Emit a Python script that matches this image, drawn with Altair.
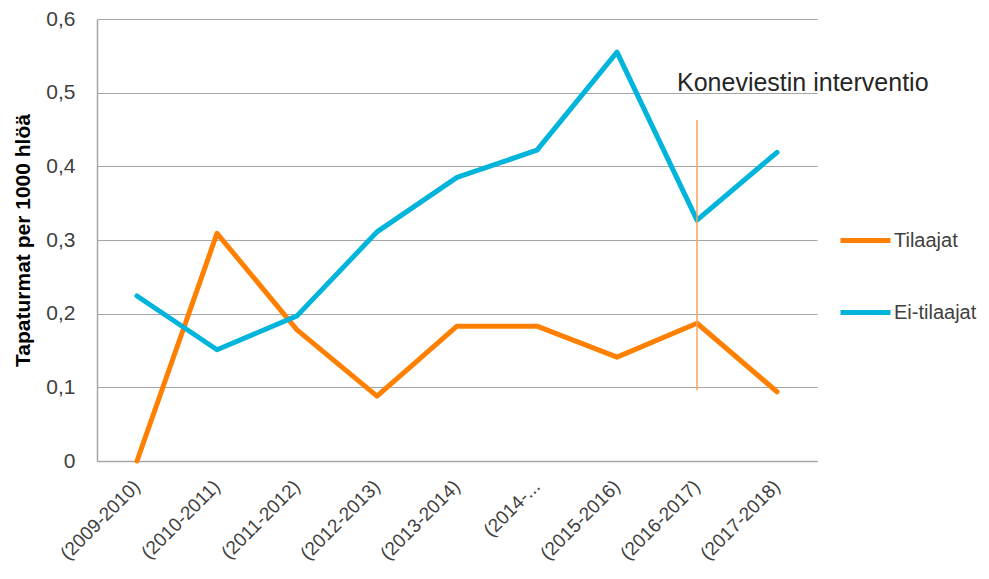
import altair as alt
import pandas as pd

categories = ["(2009-2010)", "(2010-2011)", "(2011-2012)", "(2012-2013)", "(2013-2014)",
              "(2014-...", "(2015-2016)", "(2016-2017)", "(2017-2018)"]
tilaajat = [0.0, 0.309, 0.178, 0.088, 0.183, 0.183, 0.141, 0.187, 0.094]
ei_tilaajat = [0.224, 0.151, 0.197, 0.311, 0.385, 0.422, 0.555, 0.327, 0.419]
series_names = ["Tilaajat", "Ei-tilaajat"]
series_colors = ["#FF8000", "#00B4DC"]

intervention_category = "(2016-2017)"
intervention_range = [0.096, 0.463]
annotation_text = "Koneviestin interventio"
annotation_y = 0.513

rows = []
for c, v in zip(categories, tilaajat):
    rows.append({"kausi": c, "arvo": v, "sarja": series_names[0]})
for c, v in zip(categories, ei_tilaajat):
    rows.append({"kausi": c, "arvo": v, "sarja": series_names[1]})
df = pd.DataFrame(rows)

FONT = "Liberation Sans"
TXT = "#404040"

x_enc = alt.X("kausi:N", sort=categories, title=None,
              scale=alt.Scale(domain=categories, paddingInner=0, paddingOuter=0),
              axis=alt.Axis(labelAngle=-45, labelAlign="right", labelBaseline="middle",
                            labelFontSize=19, labelColor=TXT, labelFont=FONT,
                            ticks=False, domainColor="#A6A6A6", domainWidth=1.5,
                            labelPadding=22, grid=False, labelLimit=300))
y_enc = alt.Y("arvo:Q", title="Tapaturmat per 1000 hlöä",
              scale=alt.Scale(domain=[0, 0.6], nice=False),
              axis=alt.Axis(values=[0, 0.1, 0.2, 0.3, 0.4, 0.5, 0.6],
                            labelExpr="datum.value == 0 ? '0' : replace(format(datum.value, '.1f'), '.', ',')",
                            labelFontSize=21, labelColor=TXT, labelFont=FONT,
                            ticks=False, labelPadding=22,
                            domainColor="#A6A6A6", domainWidth=1.5,
                            gridColor="#A6A6A6", gridWidth=1.2,
                            titleFontSize=21, titleFontWeight="bold", titleColor="#000000",
                            titleFont=FONT, titlePadding=12))

lines = alt.Chart(df).mark_line(strokeWidth=5, strokeCap="round", strokeJoin="round").encode(
    x=x_enc,
    y=y_enc,
    color=alt.Color("sarja:N", sort=series_names,
                    scale=alt.Scale(domain=series_names, range=series_colors),
                    legend=alt.Legend(title=None, orient="none", legendX=741, legendY=194,
                                      symbolType="stroke", symbolSize=2500, symbolStrokeWidth=5,
                                      labelFontSize=20, labelColor=TXT, labelFont=FONT,
                                      labelOffset=1, rowPadding=34, labelLimit=300)),
)

rule_df = pd.DataFrame({"kausi": [intervention_category],
                        "y1": [intervention_range[0]], "y2": [intervention_range[1]]})
rule = alt.Chart(rule_df).mark_rule(color="#F9A55A", strokeWidth=1.5).encode(
    x=alt.X("kausi:N", sort=categories),
    y="y1:Q",
    y2="y2:Q",
)

text_df = pd.DataFrame({"kausi": [intervention_category], "arvo": [annotation_y],
                        "teksti": [annotation_text]})
text = alt.Chart(text_df).mark_text(align="left", baseline="middle", dx=-20,
                                    fontSize=25, font=FONT, color="#262626").encode(
    x=alt.X("kausi:N", sort=categories),
    y="arvo:Q",
    text="teksti:N",
)

chart = alt.layer(lines, rule, text).properties(
    width=720, height=442,
    autosize=alt.AutoSizeParams(type="none"),
    padding={"left": 89, "top": 11, "right": 163, "bottom": 108},
    background="white",
).configure_view(stroke=None)

chart.save("out.html", embed_options={"renderer": "svg", "actions": False})
